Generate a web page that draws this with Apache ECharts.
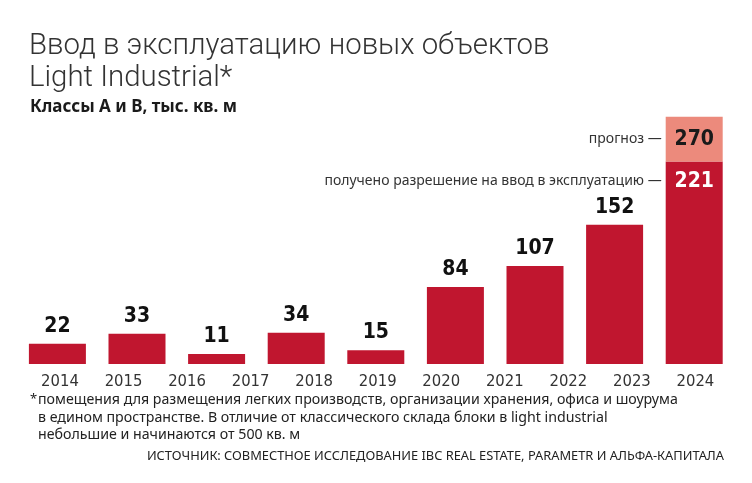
<!DOCTYPE html>
<html>
<head>
<meta charset="utf-8">
<script src="https://cdn.jsdelivr.net/npm/echarts@6/dist/echarts.min.js"></script>
<style>
html,body{margin:0;padding:0;background:#fff;}
#c{width:752px;height:483px;}
</style>
</head>
<body>
<div id="c"></div>
<script>
// Tick labels shown under the chart
const yearLabels = ['2014','2015','2016','2017','2018','2019','2020','2021','2022','2023','2024'];
// Bars (9 bars as drawn in the reference)
const barKeys = ['b1','b2','b3','b4','b5','b6','b7','b8','b9'];
const barValues = [22, 33, 11, 34, 15, 84, 107, 152, 221];
// Forecast total for the last bar
const forecastTotal = [null, null, null, null, null, null, null, null, 270];

const forecastExtra = forecastTotal.map((v, i) => v == null ? null : v - barValues[i]);
const lastIdx = barValues.length - 1;

const RED = '#c0162f';
const PINK = '#ec8a7c';
const numFont = '"DejaVu Sans",sans-serif';
const txtFont = '"Noto Sans","Open Sans",sans-serif';

const chart = echarts.init(document.getElementById('c'), null, {renderer: 'canvas'});

const option = {
  backgroundColor: '#ffffff',
  animation: false,
  title: [
    {
      text: 'Ввод в эксплуатацию новых объектов\nLight Industrial*',
      left: 29, top: 30.5, padding: 0,
      textStyle: {fontFamily: 'Roboto,"Open Sans",sans-serif', fontWeight: 300, fontSize: 29.4, lineHeight: 32, color: '#333'}
    },
    {
      text: 'Классы А и В, тыс. кв. м',
      left: 30, top: 98, padding: 0,
      textStyle: {fontFamily: txtFont, fontWeight: 'bold', fontSize: 17, lineHeight: 18, color: '#1a1a1a'}
    },
    {
      text: '*',
      left: 30, top: 392, padding: 0,
      textStyle: {fontFamily: txtFont, fontWeight: 'normal', fontSize: 13, lineHeight: 14, color: '#222'}
    },
    {
      text: 'помещения для размещения легких производств, организации хранения, офиса и шоурума\nв едином пространстве. В отличие от классического склада блоки в light industrial\nнебольшие и начинаются от 500 кв. м',
      left: 38, top: 391.5, padding: 0,
      textStyle: {fontFamily: txtFont, fontWeight: 'normal', fontSize: 14.2, lineHeight: 17.5, color: '#222'}
    },
    {
      text: 'ИСТОЧНИК: СОВМЕСТНОЕ ИССЛЕДОВАНИЕ IBC REAL ESTATE, PARAMETR И АЛЬФА-КАПИТАЛА',
      right: 28, top: 448.5, padding: 0,
      textStyle: {fontFamily: txtFont, fontWeight: 'normal', fontSize: 12.85, lineHeight: 16, color: '#222'}
    }
  ],
  grid: [
    {left: 17.6, width: 716.4, top: 116.7, height: 247.3},
    {left: 28.2, width: 699, top: 116.7, height: 247.3}
  ],
  xAxis: [
    {type: 'category', gridIndex: 0, data: barKeys, show: false},
    {type: 'category', gridIndex: 1, data: yearLabels,
      axisLine: {show: false}, axisTick: {show: false},
      axisLabel: {margin: 9, fontFamily: numFont, fontWeight: 'normal condensed', fontSize: 16.5, color: '#333'}}
  ],
  yAxis: [
    {type: 'value', gridIndex: 0, min: 0, max: 270, show: false, splitLine: {show: false}},
    {type: 'value', gridIndex: 1, min: 0, max: 270, show: false, splitLine: {show: false}}
  ],
  series: [
    {
      type: 'bar', xAxisIndex: 0, yAxisIndex: 0, stack: 's',
      data: barValues.map((v, i) => i === lastIdx ? {
        value: v,
        label: {position: 'insideTop', distance: 9, color: '#fff'}
      } : v),
      barWidth: 57,
      itemStyle: {color: RED},
      label: {show: true, position: 'top', distance: 7, fontFamily: numFont, fontWeight: 'bold condensed', fontSize: 21, color: '#111'},
      markPoint: {
        symbol: 'rect', symbolSize: [57, 1],
        itemStyle: {color: 'rgba(0,0,0,0)'},
        label: {show: true, position: 'left', distance: 4, fontFamily: txtFont, fontSize: 14, color: '#333'},
        data: [{coord: [barKeys[lastIdx], barValues[lastIdx] - 21], value: barValues[lastIdx],
                label: {formatter: 'получено разрешение на ввод в эксплуатацию —'}}]
      }
    },
    {
      type: 'bar', xAxisIndex: 0, yAxisIndex: 0, stack: 's',
      data: forecastExtra,
      barWidth: 57,
      itemStyle: {color: PINK},
      label: {show: true, position: 'inside', fontFamily: numFont, fontWeight: 'bold condensed', fontSize: 21, color: '#1a1a1a',
        formatter: p => String(forecastTotal[p.dataIndex])},
      markPoint: {
        symbol: 'rect', symbolSize: [57, 1],
        itemStyle: {color: 'rgba(0,0,0,0)'},
        label: {show: true, position: 'left', distance: 4, fontFamily: txtFont, fontSize: 14, color: '#333'},
        data: [{coord: [barKeys[lastIdx], (forecastTotal[lastIdx] + barValues[lastIdx]) / 2], value: forecastTotal[lastIdx],
                label: {formatter: 'прогноз —'}}]
      }
    },
    {
      type: 'bar', xAxisIndex: 1, yAxisIndex: 1, data: yearLabels.map(() => null), silent: true
    }
  ]
};
chart.setOption(option);
</script>
</body>
</html>
